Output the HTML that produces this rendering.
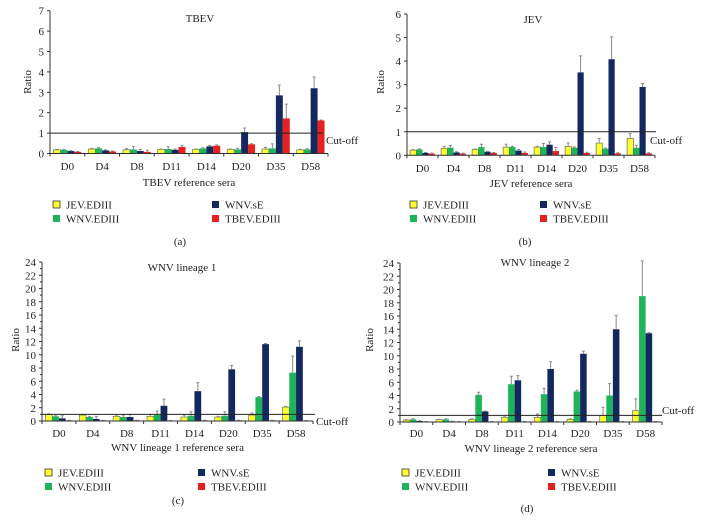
<!DOCTYPE html>
<html><head><meta charset="utf-8"><style>
html,body{margin:0;padding:0;background:#fff;}
svg{display:block;font-family:"Liberation Serif",serif;}
</style></head><body>
<svg id="chart" width="702" height="522" viewBox="0 0 702 522" xmlns="http://www.w3.org/2000/svg"></svg>
<script>
const categories=["D0","D4","D8","D11","D14","D20","D35","D58"];
const seriesNames=["JEV.EDIII","WNV.EDIII","WNV.sE","TBEV.EDIII"];
// Panel a - TBEV
const aJev=[0.18,0.22,0.18,0.2,0.2,0.2,0.22,0.18];
const aWnv=[0.18,0.25,0.2,0.22,0.25,0.2,0.25,0.2];
const aSe=[0.12,0.15,0.12,0.18,0.35,1.05,2.85,3.2];
const aTbev=[0.08,0.1,0.08,0.32,0.38,0.45,1.72,1.62];
const aJevErr=[0.02,0.03,0.06,0.02,0.02,0.02,0.08,0.02];
const aWnvErr=[0.02,0.04,0.15,0.12,0.03,0.05,0.22,0.03];
const aSeErr=[0.02,0.03,0.08,0.04,0.05,0.2,0.5,0.55];
const aTbevErr=[0.02,0.02,0.08,0.08,0.04,0.03,0.7,0.02];
const aTicks=[0,1,2,3,4,5,6,7];
// Panel b - JEV
const bJev=[0.22,0.3,0.25,0.35,0.35,0.38,0.52,0.72];
const bWnv=[0.25,0.32,0.35,0.35,0.35,0.32,0.28,0.32];
const bSe=[0.1,0.12,0.15,0.2,0.45,3.52,4.08,2.9];
const bTbev=[0.07,0.07,0.1,0.1,0.18,0.1,0.08,0.08];
const bJevErr=[0.02,0.08,0.02,0.12,0.03,0.15,0.2,0.2];
const bWnvErr=[0.02,0.1,0.12,0.03,0.15,0.03,0.03,0.1];
const bSeErr=[0.02,0.03,0.02,0.05,0.12,0.7,0.95,0.15];
const bTbevErr=[0.02,0.02,0.02,0.04,0.15,0.03,0.03,0.03];
const bTicks=[0,1,2,3,4,5,6];
// Panel c - WNV lineage 1
const cJev=[1.0,0.9,0.7,0.7,0.6,0.6,0.9,2.1];
const cWnv=[0.7,0.6,0.6,0.9,0.8,0.8,3.6,7.3];
const cSe=[0.4,0.3,0.6,2.3,4.5,7.8,11.6,11.2];
const cTbev=[0.1,0.1,0.1,0.05,0.1,0.1,0.1,0.05];
const cJevErr=[0.1,0.1,0.1,0.3,0.3,0.1,0.3,0.1];
const cWnvErr=[0.1,0.1,0.3,0.6,0.6,0.6,0.1,2.5];
const cSeErr=[0.4,0.4,0.4,1.0,1.3,0.6,0.1,0.9];
const cTbevErr=[0.02,0.02,0.02,0.02,0.02,0.02,0.02,0.02];
const cTicks=[0,2,4,6,8,10,12,14,16,18,20,22,24];
// Panel d - WNV lineage 2
const dJev=[0.3,0.35,0.4,0.7,0.7,0.4,1.0,1.7];
const dWnv=[0.4,0.4,4.1,5.7,4.2,4.6,4.0,19.0];
const dSe=[0.15,0.1,1.6,6.3,8.0,10.3,14.0,13.4];
const dTbev=[0.05,0.05,0.05,0.05,0.05,0.05,0.05,0.05];
const dJevErr=[0.05,0.05,0.1,0.1,0.5,0.1,1.2,1.8];
const dWnvErr=[0.1,0.1,0.4,1.2,0.9,0.2,1.8,5.3];
const dSeErr=[0.05,0.02,0.05,0.7,1.1,0.4,2.1,0.1];
const dTbevErr=[0.02,0.02,0.02,0.02,0.02,0.02,0.02,0.02];
const dTicks=[0,2,4,6,8,10,12,14,16,18,20,22,24];

const colors=["#ffff33","#1fb35b","#13285e","#e5201f"];
const svg=document.getElementById('chart');
const NS="http://www.w3.org/2000/svg";
function mk(tag,attrs,parent){const e=document.createElementNS(NS,tag);for(const k in attrs)e.setAttribute(k,attrs[k]);(parent||svg).appendChild(e);return e;}
function txt(s,x,y,size,anchor,parent){const t=mk('text',{x:x,y:y,'font-size':size,'text-anchor':anchor||'middle',fill:'#222'},parent);t.textContent=s;return t;}

const panels=[
 {id:'a',title:'TBEV',xt:'TBEV reference sera',x0:50,x1:328,y0:153.5,yTop:10.7,max:7,ticks:aTicks,minor:false,data:[aJev,aWnv,aSe,aTbev],err:[aJevErr,aWnvErr,aSeErr,aTbevErr],titleX:200,titleY:22,ratioX:27,ratioY:82,catY:170,xtY:186,cutX:326,cutY:144,cutEnd:323,legY:205,lx1:53,lx2:212,lab:'(a)',labX:180,labY:245},
 {id:'b',title:'JEV',xt:'JEV reference sera',x0:407,x1:655,y0:155.3,yTop:14,max:6,ticks:bTicks,minor:false,data:[bJev,bWnv,bSe,bTbev],err:[bJevErr,bWnvErr,bSeErr,bTbevErr],titleX:533,titleY:23,ratioX:380,ratioY:82,catY:172,xtY:187,cutX:650,cutY:144,cutEnd:656,legY:205,lx1:410,lx2:540,lab:'(b)',labX:525,labY:245},
 {id:'c',title:'WNV lineage 1',xt:'WNV lineage 1 reference sera',x0:42,x1:313,y0:421,yTop:262,max:24,ticks:cTicks,minor:true,data:[cJev,cWnv,cSe,cTbev],err:[cJevErr,cWnvErr,cSeErr,cTbevErr],titleX:182,titleY:271,ratioX:15,ratioY:340,catY:437,xtY:451,cutX:316,cutY:425,cutEnd:315,legY:473,lx1:45,lx2:198,lab:'(c)',labX:178,labY:504},
 {id:'d',title:'WNV lineage 2',xt:'WNV lineage 2 reference sera',x0:400,x1:662,y0:422,yTop:263,max:24,ticks:dTicks,minor:true,data:[dJev,dWnv,dSe,dTbev],err:[dJevErr,dWnvErr,dSeErr,dTbevErr],titleX:535,titleY:266,ratioX:369,ratioY:340,catY:437,xtY:452,cutX:662,cutY:414,cutEnd:662,legY:473,lx1:402,lx2:548,lab:'(d)',labX:527,labY:512}
];

panels.forEach(p=>{
 const g=mk('g',{});
 
 
 const ys=v=>p.y0-(v/p.max)*(p.y0-p.yTop);
 const step=(p.x1-p.x0)/categories.length;
 const bw=step*0.2;
 // bars
 p.data.forEach((arr,s)=>{
  arr.forEach((v,i)=>{
   const x=p.x0+i*step+step*0.1+s*bw;
   const r=mk('rect',{x:x,y:ys(v),width:bw,height:Math.max(0,p.y0-ys(v)),fill:colors[s],stroke:s===0?'#555':'none','stroke-width':0.6},g);
   
   
   const e=p.err[s][i];
   const cx=x+bw/2, yt=ys(v+e);
   const l=mk('path',{d:`M${cx},${ys(v)}V${yt}M${cx-1.5},${yt}H${cx+1.5}`,stroke:'#888','stroke-width':1,fill:'none'},g);
   
   
  });
 });
 // axes
 const ax=mk('path',{d:`M${p.x0},${p.yTop}V${p.y0}H${p.x1}`,stroke:'#333','stroke-width':1,fill:'none'},g);
 
 
 p.ticks.forEach(t=>{
  mk('line',{x1:p.x0-3,x2:p.x0,y1:ys(t),y2:ys(t),stroke:'#333'},g);
  const tl=txt(String(t),p.x0-6,ys(t)+4,11,'end',g);
  
  
  if(p.minor&&t<p.max) mk('line',{x1:p.x0-2,x2:p.x0,y1:ys(t+1),y2:ys(t+1),stroke:'#333'},g);
 });
 for(let i=0;i<=categories.length;i++){
  const x=p.x0+i*step;
  mk('line',{x1:x,x2:x,y1:p.y0,y2:p.y0+3,stroke:'#333'},g);
 }
 categories.forEach((c,i)=>{
  const cl=txt(c,p.x0+(i+0.5)*step,p.catY,11,'middle',g);
  
  
 });
 const cut=mk('line',{x1:p.x0,x2:p.cutEnd,y1:ys(1),y2:ys(1),stroke:'#222','stroke-width':1},g);
 
 
 const ct=txt('Cut-off',p.cutX,p.cutY,11,p.id==='b'||p.id==='d'?'start':'start',g);
 
 
 const tt=txt(p.title,p.titleX,p.titleY,11,'middle',g);
 
 
 const rt=txt('Ratio',0,0,11,'middle',g);
 rt.setAttribute('transform',`translate(${p.ratioX+4},${p.ratioY}) rotate(-90)`);
 
 
 const xt=txt(p.xt,(p.x0+p.x1)/2,p.xtY,11,'middle',g);
 
 
 // legend
 const pos=[[p.lx1,p.legY],[p.lx1,p.legY+14],[p.lx2,p.legY],[p.lx2,p.legY+14]];
 seriesNames.forEach((n,s)=>{
  const lg=mk('g',{},g);
  
  
  mk('rect',{x:pos[s][0],y:pos[s][1]-4,width:7,height:7,fill:colors[s],stroke:s===0?'#333':'none','stroke-width':0.8},lg);
  txt(n,pos[s][0]+13,pos[s][1]+3.5,11,'start',lg);
 });
 const pl=txt(p.lab,p.labX,p.labY,11,'middle',g);
 
 
});
</script>
</body></html>
